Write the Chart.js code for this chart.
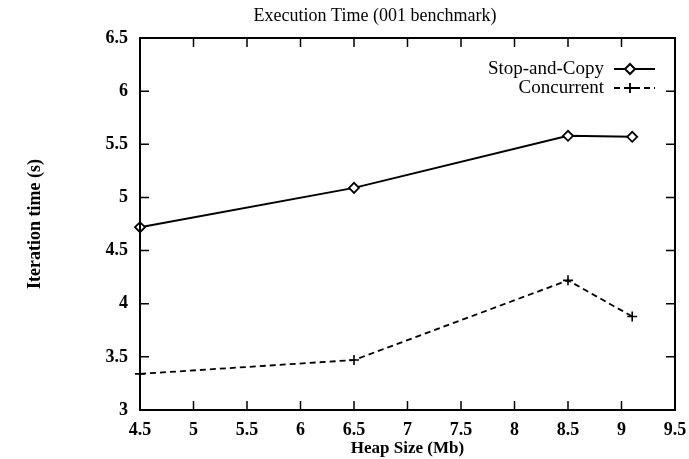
<!DOCTYPE html>
<html>
<head>
<meta charset="utf-8">
<script src="https://cdn.jsdelivr.net/npm/chart.js@4.4.1/dist/chart.umd.min.js"></script>
<style>
  html, body { margin: 0; padding: 0; background: #fff; }
  #box { width: 689px; height: 459px; }
</style>
</head>
<body>
<div id="box"><canvas id="timeChart"></canvas></div>
<script>
// heap sizes (Mb)
const heapSizes = [4.5, 6.5, 8.5, 9.1];
// iteration times (s)
const stopAndCopy = [4.72, 5.09, 5.58, 5.57];
const concurrent = [3.34, 3.47, 4.22, 3.88];
const xTicks = [4.5, 5, 5.5, 6, 6.5, 7, 7.5, 8, 8.5, 9, 9.5];
const yTicks = [3, 3.5, 4, 4.5, 5, 5.5, 6, 6.5];

const FONT = "'Liberation Serif', 'Times New Roman', serif";

function toPoints(xs, ys) {
  return xs.map((x, i) => ({ x: x, y: ys[i] }));
}

// 枠と内向きの目盛り
const frameTicks = {
  id: "frameTicks",
  afterDraw(chart) {
    const { ctx, chartArea: a, scales } = chart;
    const len = 9;
    ctx.save();
    ctx.strokeStyle = "#000";
    ctx.lineWidth = 2;
    ctx.strokeRect(a.left, a.top, a.right - a.left, a.bottom - a.top);
    ctx.lineWidth = 1.5;
    ctx.beginPath();
    scales.x.ticks.forEach(t => {
      const px = scales.x.getPixelForValue(t.value);
      ctx.moveTo(px, a.bottom); ctx.lineTo(px, a.bottom - len);
      ctx.moveTo(px, a.top); ctx.lineTo(px, a.top + len);
    });
    scales.y.ticks.forEach(t => {
      const py = scales.y.getPixelForValue(t.value);
      ctx.moveTo(a.left, py); ctx.lineTo(a.left + len, py);
      ctx.moveTo(a.right, py); ctx.lineTo(a.right - len, py);
    });
    ctx.stroke();
    ctx.restore();
  }
};

// 右上の凡例 (gnuplot風)
const cornerLegend = {
  id: "cornerLegend",
  afterDatasetsDraw(chart) {
    const { ctx, chartArea: a } = chart;
    ctx.save();
    ctx.font = "19px " + FONT;
    ctx.textAlign = "right";
    ctx.textBaseline = "middle";
    chart.data.datasets.forEach((ds, i) => {
      const y = a.top + 31 + i * 19;
      const textRight = a.right - 71;
      ctx.fillStyle = "#000";
      ctx.fillText(ds.label, textRight, y);
      const x0 = textRight + 10, x1 = a.right - 20;
      ctx.strokeStyle = "#000";
      ctx.lineWidth = ds.borderWidth;
      ctx.setLineDash(ds.borderDash || []);
      ctx.beginPath();
      ctx.moveTo(x0, y); ctx.lineTo(x1, y);
      ctx.stroke();
      ctx.setLineDash([]);
      ctx.fillStyle = "#fff";
      Chart.helpers.drawPoint(ctx, {
        pointStyle: ds.pointStyle,
        radius: ds.pointRadius,
        rotation: 0,
        borderWidth: ds.pointBorderWidth
      }, x0 + 16, y);
    });
    ctx.restore();
  }
};

const ctx = document.getElementById("timeChart").getContext("2d");
new Chart(ctx, {
  type: "line",
  data: {
    datasets: [
      {
        label: "Stop-and-Copy",
        data: toPoints(heapSizes, stopAndCopy),
        borderColor: "#000",
        borderWidth: 2,
        pointStyle: "rectRot",
        pointRadius: 5,
        pointBorderWidth: 1.8,
        pointBackgroundColor: "#fff",
        pointBorderColor: "#000"
      },
      {
        label: "Concurrent",
        data: toPoints(heapSizes, concurrent),
        borderColor: "#000",
        borderWidth: 1.8,
        borderDash: [6, 4],
        pointStyle: "cross",
        pointRadius: 5,
        pointBorderWidth: 1.6,
        pointBorderColor: "#000"
      }
    ]
  },
  options: {
    responsive: true,
    maintainAspectRatio: false,
    animation: false,
    clip: false,
    layout: { padding: { top: 38, right: 14, left: 0, bottom: 0 } },
    plugins: {
      legend: { display: false },
      tooltip: { enabled: false },
      title: { display: false }
    },
    scales: {
      x: {
        type: "linear",
        min: 4.5,
        max: 9.5,
        afterBuildTicks: s => { s.ticks = xTicks.map(v => ({ value: v })); },
        afterFit: s => { s.height = 49; s.paddingLeft = 0; s.paddingRight = 0; },
        grid: { display: false, drawTicks: false },
        border: { display: false },
        ticks: {
          padding: 10,
          color: "#000",
          font: { family: FONT, size: 18, weight: "bold" },
          callback: v => String(v)
        },
        title: {
          display: true,
          text: "Heap Size (Mb)",
          color: "#000",
          font: { family: FONT, size: 17, weight: "bold" },
          padding: { top: 0, bottom: 0 }
        }
      },
      y: {
        type: "linear",
        min: 3,
        max: 6.5,
        afterBuildTicks: s => { s.ticks = yTicks.map(v => ({ value: v })); },
        afterFit: s => { s.width = 140; s.paddingTop = 0; s.paddingBottom = 0; },
        grid: { display: false, drawTicks: false },
        border: { display: false },
        ticks: {
          padding: 12,
          color: "#000",
          font: { family: FONT, size: 18, weight: "bold" },
          callback: v => String(v)
        },
        title: {
          display: true,
          text: "Iteration time (s)",
          color: "#000",
          font: { family: FONT, size: 18, weight: "bold" },
          padding: { top: 25, bottom: 0 }
        }
      }
    }
  },
  plugins: [frameTicks, cornerLegend, {
    id: "topTitle",
    afterDraw(chart) {
      const { ctx } = chart;
      ctx.save();
      ctx.font = "18px " + FONT;
      ctx.fillStyle = "#000";
      ctx.textAlign = "center";
      ctx.textBaseline = "middle";
      ctx.fillText("Execution Time (001 benchmark)", 375, 16);
      ctx.restore();
    }
  }]
});
</script>
</body>
</html>
